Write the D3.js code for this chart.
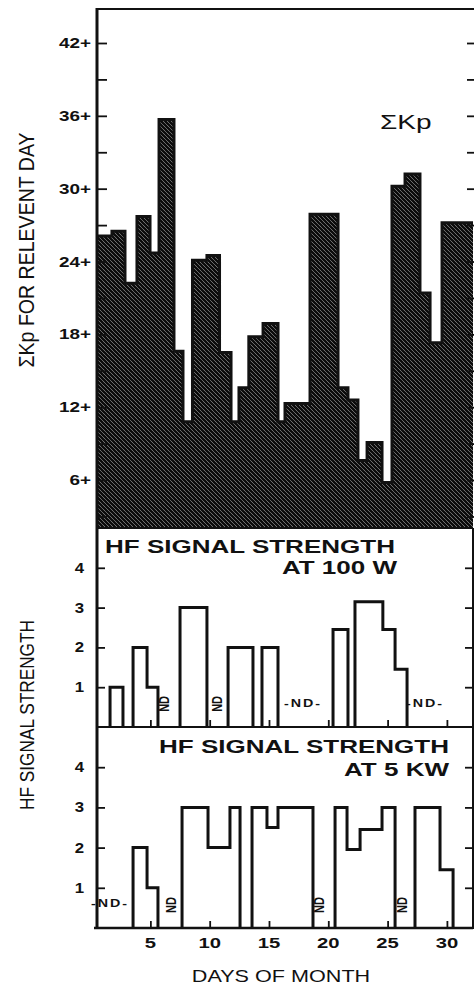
<!DOCTYPE html>
<html>
<head>
<meta charset="utf-8">
<script src="https://cdn.jsdelivr.net/npm/d3@7"></script>
<style>
  html, body { margin: 0; padding: 0; background: #fff; }
  svg { display: block; }
  text { font-family: "Liberation Sans", Arial, sans-serif; fill: #111; }
</style>
</head>
<body>
<svg id="chart" width="474" height="986"></svg>
<script>
// Sum of Kp per day: step edges (day units) and the level between each pair of edges
const kpEdges = [0.5, 1.76, 2.86, 3.87, 4.97, 5.73, 6.99, 7.75, 8.55, 9.77, 10.83, 11.8, 12.47, 13.3,
  14.5, 15.76, 16.35, 18.46, 20.82, 21.66, 22.5, 23.27, 24.53, 25.37, 26.47, 27.73, 28.58, 29.59, 32.2];
const kpValues = [26.1, 26.5, 22.2, 27.7, 24.7, 35.7, 16.6, 10.8, 24.1, 24.5, 16.5, 10.8, 13.6, 17.8,
  18.9, 10.8, 12.3, 27.9, 13.6, 12.6, 7.6, 9.1, 5.8, 30.2, 31.2, 21.4, 17.3, 27.2];

// HF signal strength segments: [fromDay, toDay, strength]
const signal100W = [
  [1.6, 2.69, 1.0],
  [3.54, 4.72, 2.0], [4.72, 5.64, 1.0],
  [7.5, 9.77, 3.0],
  [11.55, 13.65, 2.0],
  [14.41, 15.76, 2.0],
  [20.4, 21.66, 2.45],
  [22.25, 24.6, 3.15], [24.6, 25.63, 2.45], [25.63, 26.64, 1.45]
];
const signal5kW = [
  [3.54, 4.72, 2.0], [4.72, 5.64, 1.0],
  [7.67, 9.86, 3.0], [9.86, 11.71, 2.0], [11.71, 12.56, 3.0],
  [13.57, 14.83, 3.0], [14.83, 15.76, 2.5], [15.76, 18.71, 3.0],
  [20.57, 21.58, 3.0], [21.58, 22.68, 1.95], [22.68, 24.53, 2.45], [24.53, 25.63, 3.0],
  [27.31, 29.42, 3.0], [29.42, 30.52, 1.45]
];

// "no data" marks: [day, strength, rotated]
const noData100W = [[6.23, 0.58, true], [10.7, 0.58, true], [17.87, 0.6, false], [28.16, 0.6, false]];
const noData5kW = [[1.6, 0.62, false], [6.82, 0.57, true], [19.3, 0.57, true], [26.3, 0.57, true]];

const kpTicks = [6, 12, 18, 24, 30, 36, 42];
const kpMinorTicks = [3, 9, 15, 21, 27, 33, 39];
const signalTicks = [1, 2, 3, 4];
const dayTicks = [5, 10, 15, 20, 25, 30];

class HfSignalChart {
  constructor() {
    this.svg = d3.select("#chart");
    this.left = 97;
    this.right = 473;
    this.sx = 1.35; // the scan is stretched sideways, so text is too
    this.x = d3.scaleLinear().domain([0.5, 32.2]).range([this.left, this.right]);
    this.render();
  }

  render() {
    this.addPattern();
    this.addKpPanel();
    this.addSignalPanel(signal100W, noData100W, 528, 727, ["HF SIGNAL STRENGTH", "AT 100 W"], [105, 553, 397, 574], false);
    this.addSignalPanel(signal5kW, noData5kW, 727, 928, ["HF SIGNAL STRENGTH", "AT 5 KW"], [449, 753, 449, 776], true);
    this.addFrame();
    this.addLabels();
  }

  addPattern() {
    const p = this.svg.append("defs").append("pattern")
      .attr("id", "hatch")
      .attr("patternUnits", "userSpaceOnUse")
      .attr("width", 4)
      .attr("height", 4);
    p.append("rect").attr("width", 4).attr("height", 4).attr("fill", "#fff");
    p.append("path")
      .attr("d", "M-1,-1L5,5M-1,3L1,5M3,-1L5,1")
      .attr("stroke", "#0a0a0a")
      .attr("stroke-width", 2.6);
  }

  text(g, str, x, y, o = {}) {
    const tf = o.rotate
      ? `translate(${x},${y}) rotate(-90) scale(1,${o.sx || this.sx})`
      : `translate(${x},${y}) scale(${o.sx || this.sx},1)`;
    const t = g.append("text")
      .attr("transform", tf)
      .attr("text-anchor", o.anchor || "start")
      .style("font-size", (o.size || 14) + "px")
      .style("font-weight", o.weight || "normal")
      .text(str);
    if (o.length) t.attr("textLength", o.length).attr("lengthAdjust", "spacingAndGlyphs");
    if (o.spacing) t.style("letter-spacing", o.spacing + "px");
    return t;
  }

  addKpPanel() {
    const g = this.svg.append("g");
    this.yKp = d3.scaleLinear().domain([2.05, 44.8]).range([528, 9]);
    const y = this.yKp;

    const pts = kpValues.flatMap((v, i) => [{ d: kpEdges[i], v }, { d: kpEdges[i + 1], v }]);

    g.append("path")
      .datum(pts)
      .attr("fill", "url(#hatch)")
      .attr("d", d3.area().x(d => this.x(d.d)).y0(y(2.05)).y1(d => y(d.v)));

    g.append("path")
      .datum(pts)
      .attr("fill", "none")
      .attr("stroke", "#111")
      .attr("stroke-width", 3)
      .attr("d", d3.line().x(d => this.x(d.d)).y(d => y(d.v)));

    // ticks
    g.append("g")
      .attr("transform", `translate(${this.left},0)`)
      .call(d3.axisLeft(y).tickValues(kpTicks.concat(kpMinorTicks)).tickSize(-10).tickFormat(""))
      .call(a => a.select(".domain").remove())
      .selectAll("line").attr("stroke", "#111").attr("stroke-width", 1.8);

    g.append("g")
      .attr("transform", `translate(${this.right + 2},0)`)
      .call(d3.axisRight(y).tickValues(kpTicks.concat(kpMinorTicks)).tickSize(-8).tickFormat(""))
      .call(a => a.select(".domain").remove())
      .selectAll("line").attr("stroke", "#111").attr("stroke-width", 1.8);

    kpTicks.forEach(v => {
      this.text(g, `${v}+`, 91, y(v) + 5, { anchor: "end", size: 14, weight: "bold" });
    });

    this.text(g, "\u03A3Kp", 380, 129, { size: 20, sx: 1.4 });
  }

  addSignalPanel(segs, nd, top, bottom, titles, titlePos, endAnchor) {
    const g = this.svg.append("g");
    const y = d3.scaleLinear().domain([0, 5]).range([bottom, top]);

    // group segments that touch into one outlined block
    const runs = [];
    segs.forEach(s => {
      const last = runs[runs.length - 1];
      if (last && Math.abs(last[last.length - 1][1] - s[0]) < 0.01) last.push(s);
      else runs.push([s]);
    });

    const line = d3.line().x(d => this.x(d[0])).y(d => y(d[1]));
    runs.forEach(run => {
      const pts = [[run[0][0], 0]]
        .concat(run.flatMap(s => [[s[0], s[2]], [s[1], s[2]]]))
        .concat([[run[run.length - 1][1], 0]]);
      g.append("path")
        .datum(pts)
        .attr("fill", "none")
        .attr("stroke", "#111")
        .attr("stroke-width", 3)
        .attr("stroke-linejoin", "miter")
        .attr("d", line);
    });

    // ticks
    g.append("g")
      .attr("transform", `translate(${this.left},0)`)
      .call(d3.axisLeft(y).tickValues(signalTicks).tickSize(-8).tickFormat(""))
      .call(a => a.select(".domain").remove())
      .selectAll("line").attr("stroke", "#111").attr("stroke-width", 1.8);

    g.append("g")
      .attr("transform", `translate(${this.right},0)`)
      .call(d3.axisRight(y).tickValues(signalTicks).tickSize(-8).tickFormat(""))
      .call(a => a.select(".domain").remove())
      .selectAll("line").attr("stroke", "#111").attr("stroke-width", 1.8);

    g.append("g")
      .attr("transform", `translate(0,${bottom})`)
      .call(d3.axisBottom(this.x).tickValues(dayTicks).tickSize(-7).tickFormat(""))
      .call(a => a.select(".domain").remove())
      .selectAll("line").attr("stroke", "#111").attr("stroke-width", 1.8);

    signalTicks.forEach(v => {
      this.text(g, String(v), 84, y(v) + 5, { anchor: "end", size: 14, weight: "bold", sx: 1.2 });
    });

    nd.forEach(([d, v, rot]) => {
      if (rot) {
        this.text(g, "ND", this.x(d) + 4, y(v), { anchor: "middle", size: 11, weight: "bold", rotate: true, sx: 1.3 });
      } else {
        this.text(g, "-ND-", this.x(d), y(v) + 4, { anchor: "middle", size: 11, weight: "bold", sx: 1.3, spacing: 1.5 });
      }
    });

    this.text(g, titles[0], titlePos[0], titlePos[1], { anchor: endAnchor ? "end" : "start", size: 19, weight: "bold", sx: 1.37 });
    this.text(g, titles[1], titlePos[2], titlePos[3], { anchor: "end", size: 19, weight: "bold", sx: 1.37 });
  }

  addFrame() {
    const g = this.svg.append("g").attr("stroke", "#111").attr("fill", "none");
    g.append("line").attr("x1", this.left).attr("x2", this.left).attr("y1", 8).attr("y2", 929).attr("stroke-width", 3);
    g.append("line").attr("x1", this.left).attr("x2", 474).attr("y1", 9).attr("y2", 9).attr("stroke-width", 2);
    g.append("line").attr("x1", this.right).attr("x2", this.right).attr("y1", 528).attr("y2", 929).attr("stroke-width", 2);
    [528, 727].forEach(v => {
      g.append("line").attr("x1", this.left).attr("x2", this.right).attr("y1", v).attr("y2", v).attr("stroke-width", 2);
    });
    g.append("line").attr("x1", this.left - 3).attr("x2", this.right).attr("y1", 928).attr("y2", 928).attr("stroke-width", 2.5);
  }

  addLabels() {
    const g = this.svg.append("g");
    dayTicks.forEach(d => {
      this.text(g, String(d), this.x(d), 948, { anchor: "middle", size: 15, weight: "bold" });
    });
    this.text(g, "DAYS OF MONTH", 281, 982, { anchor: "middle", size: 16 });
    this.text(g, "\u03A3Kp FOR RELEVENT DAY", 34, 250, { anchor: "middle", size: 17, rotate: true, sx: 1.3, length: 235 });
    this.text(g, "HF SIGNAL STRENGTH", 34, 715, { anchor: "middle", size: 16, rotate: true, sx: 1.3, length: 190 });
  }
}

document.addEventListener("DOMContentLoaded", () => {
  window.chart = new HfSignalChart();
});
</script>
</body>
</html>
